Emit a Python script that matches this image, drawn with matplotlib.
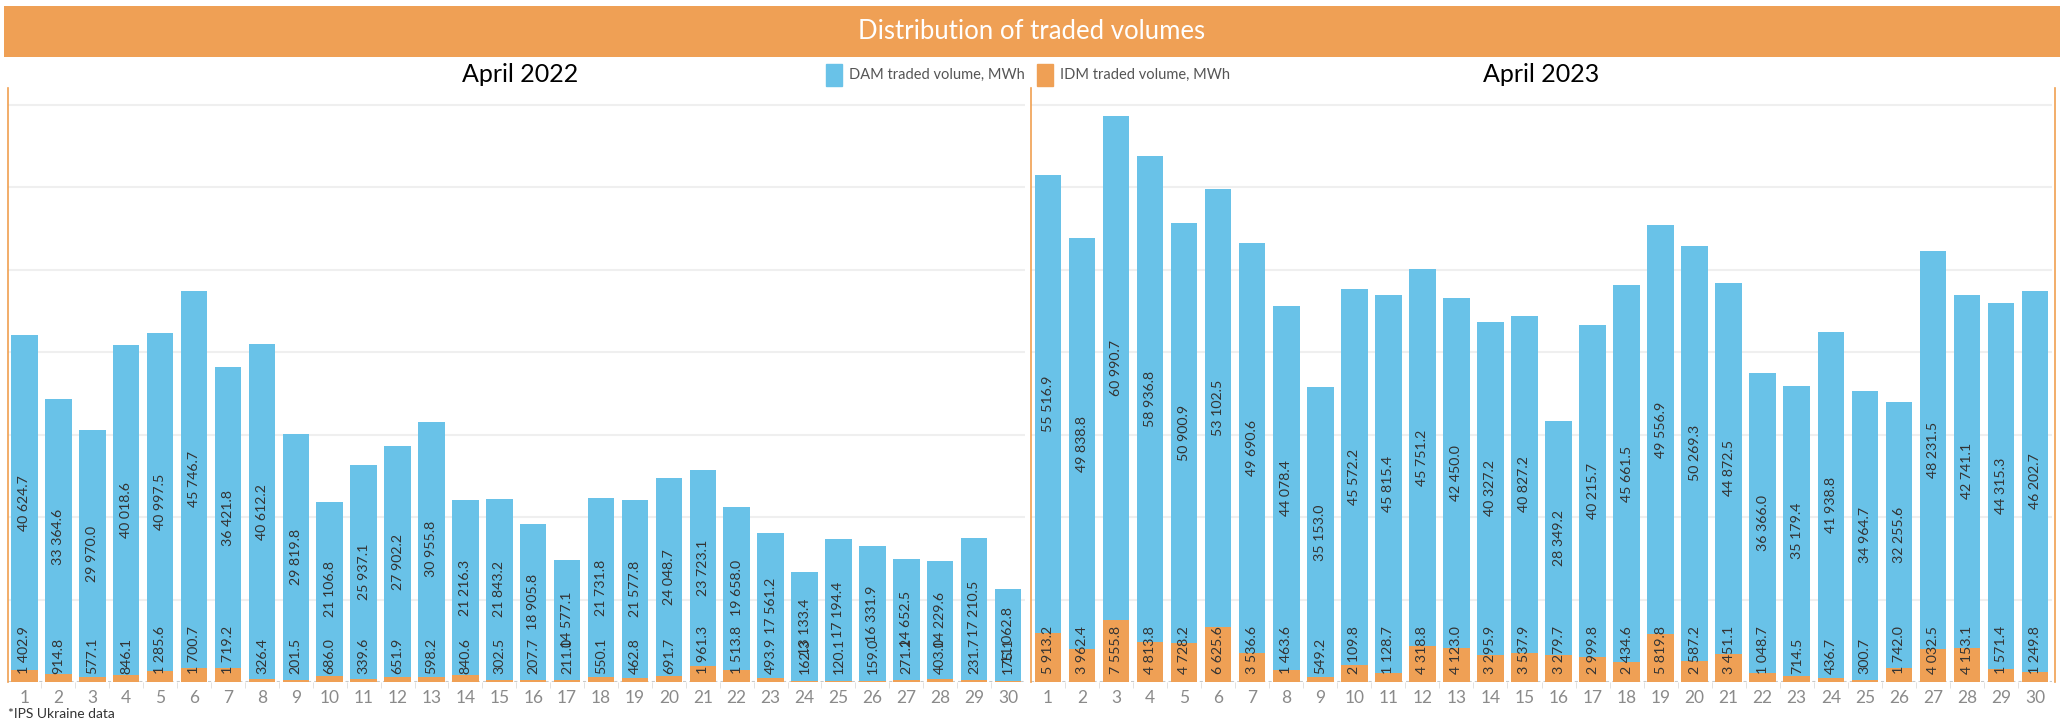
import matplotlib.pyplot as plt
import numpy as np

days = list(range(1, 31))

dam_2022 = [40624.7, 33364.6, 29970.0, 40018.6, 40997.5, 45746.7, 36421.8, 40612.2, 29819.8, 21106.8,
            25937.1, 27902.2, 30955.8, 21216.3, 21843.2, 18905.8, 14577.1, 21731.8, 21577.8, 24048.7,
            23723.1, 19658.0, 17561.2, 13133.4, 17194.4, 16331.9, 14652.5, 14229.6, 17210.5, 11062.8]
idm_2022 = [1402.9, 914.8, 577.1, 846.1, 1285.6, 1700.7, 1719.2, 326.4, 201.5, 686.0,
            339.6, 651.9, 598.2, 840.6, 302.5, 207.7, 211.0, 550.1, 462.8, 691.7,
            1961.3, 1513.8, 493.9, 162.3, 120.1, 159.0, 271.2, 403.0, 231.7, 175.1]

dam_2023 = [55516.9, 49838.8, 60990.7, 58936.8, 50900.9, 53102.5, 49690.6, 44078.4, 35153.0, 45572.2,
            45815.4, 45751.2, 42450.0, 40327.2, 40827.2, 28349.2, 40215.7, 45661.5, 49556.9, 50269.3,
            44872.5, 36366.0, 35179.4, 41938.8, 34964.7, 32255.6, 48231.5, 42741.1, 44315.3, 46202.7]
idm_2023 = [5913.2, 3962.4, 7555.8, 4813.8, 4728.2, 6625.6, 3536.6, 1463.6, 549.2, 2109.8,
            1128.7, 4318.8, 4123.0, 3295.9, 3537.9, 3279.7, 2999.8, 2434.6, 5819.8, 2587.2,
            3451.1, 1048.7, 714.5, 436.7, 300.7, 1742.0, 4032.5, 4153.1, 1571.4, 1249.8]

panels = [("April 2022", dam_2022, idm_2022), ("April 2023", dam_2023, idm_2023)]

BLUE = "#69C2E8"
ORANGE = "#EFA055"
LINE_OR = "#F0A050"

plt.rcParams['font.family'] = ['Lato', 'DejaVu Sans']

W, H = 2063, 723
fig = plt.figure(figsize=(W / 100, H / 100), dpi=100)


def px(x0, y0, x1, y1):
    # pixel box (top-left origin) -> figure fraction
    return [x0 / W, 1 - y1 / H, (x1 - x0) / W, (y1 - y0) / H]


def fmt(v):
    return f"{v:,.1f}".replace(",", " ")


# title banner
banner = fig.add_axes(px(4, 6, 2060, 57))
banner.set_facecolor(ORANGE)
banner.set_xticks([])
banner.set_yticks([])
for s in banner.spines.values():
    s.set_visible(False)
banner.text(0.5, 0.5, "Distribution of traded volumes", color="white", fontsize=18.5,
            ha="center", va="center", transform=banner.transAxes)

boxes = [(7.5, 1025), (1031, 2052)]
title_x = [520, 1541]

for (name, dam, idm), (x0, x1), tx in zip(panels, boxes, title_x):
    ax = fig.add_axes(px(x0, 88, x1, 682))
    x = np.array(days)
    ax.bar(x, idm, width=0.78, color=ORANGE, zorder=3)
    ax.bar(x, dam, width=0.78, bottom=idm, color=BLUE, zorder=3)
    for xi, d, i in zip(x, dam, idm):
        ax.text(xi, i + d / 2, fmt(d), rotation=90, ha="center", va="center",
                fontsize=10.2, color="#333333", zorder=4)
        ax.annotate(fmt(i), (xi, 0), xytext=(0, 5.5), textcoords="offset points",
                    rotation=90, ha="center", va="bottom", fontsize=10.2,
                    color="#333333", zorder=4)
    ax.set_xlim(0.5, 30.5)
    ax.set_ylim(0, 72000)
    ax.set_yticks([])
    for g in range(10000, 71000, 10000):
        ax.axhline(g, color="#EFEFEF", lw=1.5, zorder=1)
    ax.axhline(0, color="#C8C8C8", lw=1.5, ls=(0, (1.5, 1.5)), zorder=2)
    ax.set_xticks(x)
    ax.set_xticklabels([str(d) for d in days], fontsize=12.5, color="#8A8A8A")
    ax.set_xticks(np.arange(1.5, 30.5, 1), minor=True)
    ax.tick_params(axis="x", which="major", length=0, pad=6)
    ax.tick_params(axis="x", which="minor", length=4, color="#DDDDDD")
    for s in ax.spines.values():
        s.set_visible(False)
    fig.text(tx / W, 1 - 75 / H, name, fontsize=18, ha="center", va="center", color="black")

# orange panel separators
for lx in [8, 1031, 2055]:
    fig.add_artist(plt.Line2D([lx / W, lx / W], [1 - 88 / H, 1 - 682 / H], color=LINE_OR, lw=1.2))

# legend
for sx, label, col in [(826, "DAM traded volume, MWh", BLUE), (1037, "IDM traded volume, MWh", ORANGE)]:
    fig.add_artist(plt.Rectangle((sx / W, 1 - 86 / H), 16 / W, 22 / H, color=col))
    fig.text((sx + 23) / W, 1 - 75 / H, label, fontsize=10.5, color="#555555", va="center", ha="left")

fig.text(8 / W, 1 - 714 / H, "*IPS Ukraine data", fontsize=10, color="#333333", va="center", ha="left")

fig.savefig("out.png", dpi=100)
